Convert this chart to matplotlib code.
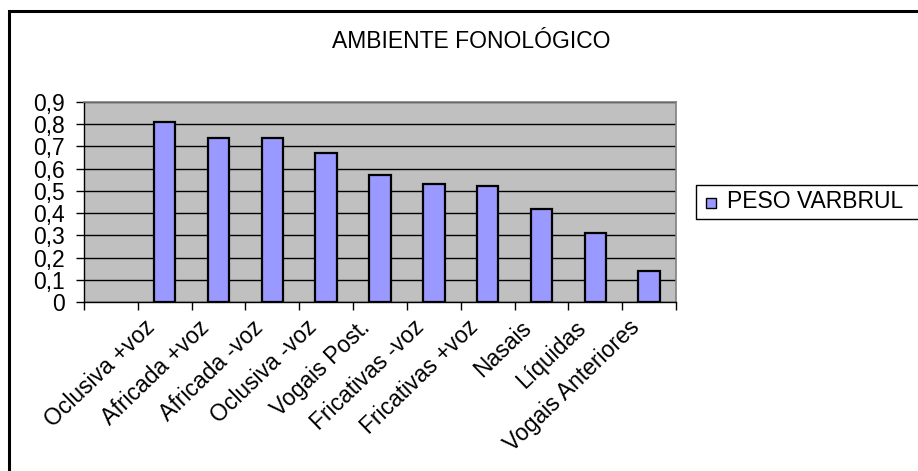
import matplotlib.pyplot as plt
import matplotlib.patches as mpatches
import matplotlib.lines as mlines
import matplotlib.transforms as mtransforms
from matplotlib.ticker import FixedLocator, FuncFormatter

plt.rcParams['font.family'] = ['Liberation Sans', 'DejaVu Sans']

# pesos relativos (Varbrul) por ambiente fonológico
categorias = ['Oclusiva +voz', 'Africada +voz', 'Africada -voz', 'Oclusiva -voz',
              'Vogais Post.', 'Fricativas -voz', 'Fricativas +voz', 'Nasais',
              'Líquidas', 'Vogais Anteriores']
peso = [0.81, 0.74, 0.74, 0.67, 0.57, 0.53, 0.52, 0.42, 0.31, 0.14]
y_ticks = [0, 0.1, 0.2, 0.3, 0.4, 0.5, 0.6, 0.7, 0.8, 0.9]

W, H = 918, 471
fig = plt.figure(figsize=(W / 100, H / 100), dpi=100)
fs = 16.5

ax = fig.add_axes([84 / W, 1 - 302 / H, (676 - 84) / W, (302 - 102) / H])
ax.set_facecolor('#C0C0C0')

# a primeira posição do eixo fica vazia
x = list(range(1, len(categorias) + 1))
ax.bar(x, peso, width=0.4, color='#9999FF', edgecolor='black', linewidth=1.6, zorder=3)

ax.set_xlim(-0.5, len(categorias) + 0.5)
ax.set_ylim(0, 0.9)

ax.set_yticks(y_ticks)
ax.yaxis.set_major_formatter(FuncFormatter(lambda v, p: '0' if v == 0 else f'{v:.1f}'.replace('.', ',')))
ax.grid(axis='y', color='black', linewidth=1.0, zorder=1)
ax.tick_params(axis='y', direction='out', length=6, width=1.0, pad=8, labelsize=fs)

# marcas nos limites das categorias, rótulos no centro
ax.xaxis.set_major_locator(FixedLocator([i - 0.5 for i in range(len(categorias) + 2)]))
ax.xaxis.set_major_formatter(FuncFormatter(lambda v, p: ''))
ax.xaxis.set_minor_locator(FixedLocator(x))
ax.set_xticklabels(categorias, minor=True, rotation=44, ha='right', va='center',
                   rotation_mode='anchor', fontsize=fs)
ax.tick_params(axis='x', which='major', direction='out', length=6, width=1.0)
ax.tick_params(axis='x', which='minor', length=0, pad=16)
desloc = mtransforms.ScaledTranslation(-13 / 100, 0, fig.dpi_scale_trans)
for lbl in ax.get_xticklabels(minor=True):
    lbl.set_transform(lbl.get_transform() + desloc)

for s in ['top', 'right']:
    ax.spines[s].set_color('#808080')
    ax.spines[s].set_linewidth(1.2)
for s in ['left', 'bottom']:
    ax.spines[s].set_color('black')
    ax.spines[s].set_linewidth(1.0)

fig.text(471 / W, 1 - 42 / H, 'AMBIENTE FONOLÓGICO', ha='center', va='center', fontsize=fs)

# moldura externa do gráfico
fig.patches.append(mpatches.Rectangle((9 / W, -0.1), 1.2, 1 - 11 / H + 0.1,
                                      transform=fig.transFigure, fill=False,
                                      edgecolor='black', linewidth=2.2))

# legenda (a caixa passa da borda direita)
lx0, ly0, ly1 = 696 / W, 1 - 219 / H, 1 - 185 / H
fig.lines.append(mlines.Line2D([1.02, lx0, lx0, 1.02], [ly1, ly1, ly0, ly0],
                               transform=fig.transFigure, color='black', linewidth=1.0))
fig.patches.append(mpatches.Rectangle((706 / W, 1 - 208 / H), 10 / W, 10 / H,
                                      transform=fig.transFigure, facecolor='#9999FF',
                                      edgecolor='black', linewidth=1.0))
fig.text(727 / W, 1 - 202 / H, 'PESO VARBRUL', ha='left', va='center', fontsize=fs)

fig.savefig('out.png', dpi=100)
